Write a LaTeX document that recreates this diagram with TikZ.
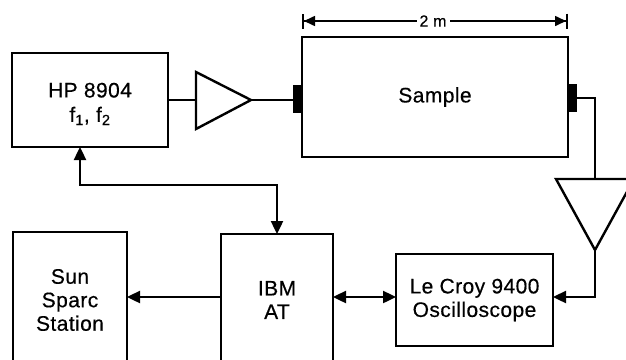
\documentclass[tikz,border=0pt]{standalone}
\usepackage{fontspec}
\setmainfont{Liberation Sans}[FakeBold=0.4,LetterSpace=2]
\usetikzlibrary{arrows.meta}
\begin{document}
\begin{tikzpicture}[x=1pt,y=-1pt,
  box/.style={draw,line width=2.7pt,inner sep=0pt,outer sep=0pt,align=center,
    font=\fontsize{21}{23.5}\selectfont},
  wire/.style={line width=2.4pt},
  conn/.style={fill=black,draw=none,inner sep=0pt,outer sep=0pt,minimum width=9pt,minimum height=28pt},
  amp/.style={line width=2.4pt,line join=miter},
  tip/.style={-{Triangle[length=13pt,width=12pt]}},
  tips/.style={{Triangle[length=13pt,width=12pt]}-{Triangle[length=13pt,width=12pt]}},
  dim/.style={line width=1.6pt,{Bar[width=15pt,line width=2pt]Triangle[length=11pt,width=10pt,sep=0pt]}-{Triangle[length=11pt,width=10pt]Bar[width=15pt,line width=2pt]}}
]
\useasboundingbox (0,0) rectangle (626,359);
\clip (0,0) rectangle (626,359);

% boxes
\node[box,minimum width=156pt,minimum height=94pt] (hp) at (90,100)
  {\raisebox{-5pt}[\height][\depth]{\begin{tabular}{@{}c@{}}HP 8904\\[1pt]f\textsubscript{1}, f\textsubscript{2}\end{tabular}}};
\node[box,minimum width=266pt,minimum height=120pt] (sample) at (435,97) {Sample};
\node[box,minimum width=114pt,minimum height=136pt] (sun) at (70,300) {Sun\\Sparc\\Station};
\node[box,minimum width=112pt,minimum height=132pt] (ibm) at (277,300) {IBM\\AT};
\node[box,minimum width=157pt,minimum height=92pt] (osc) at (474.5,300) {Le Croy 9400\\Oscilloscope};

% connectors on the sample
\node[conn] (cl) at (297.5,99) {};
\node[conn] (cr) at (572.5,98) {};

% amplifier 1 (pointing right)
\coordinate (a1in) at (196,100);
\coordinate (a1out) at (251,100);
\draw[amp] (196,72) -- (a1out) -- (196,129) -- cycle;

% amplifier 2 (pointing down)
\coordinate (a2in) at (595,179);
\coordinate (a2out) at (595,250);
\draw[amp] (556,179) -- (634,179) -- (a2out) -- cycle;

% wires
\draw[wire] (hp.east |- a1in) -- (a1in);
\draw[wire] (a1out) -- (cl.west |- a1out);
\draw[wire] (cr.east) -- (cr.east -| a2in) -- (a2in);
\draw[wire,tip] (a2out) -- (595,297) -- (osc.east |- 0,297);
\draw[wire,tips] (osc.west |- 0,297) -- (ibm.east |- 0,297);
\draw[wire,tip] (ibm.west |- 0,297) -- (sun.east |- 0,297);
\coordinate (hpb) at (80,147);
\draw[wire,tips] (hpb) -- (80,185) -- (277,185) -- (ibm.north);

% dimension line
\coordinate (dl) at (302,21);
\coordinate (dr) at (568,21);
\draw[dim] (dl) -- (dr);
\node[fill=white,inner sep=3pt,font=\fontsize{16}{18}\selectfont] (len) at (433,21) {2 m};
\end{tikzpicture}
\end{document}
